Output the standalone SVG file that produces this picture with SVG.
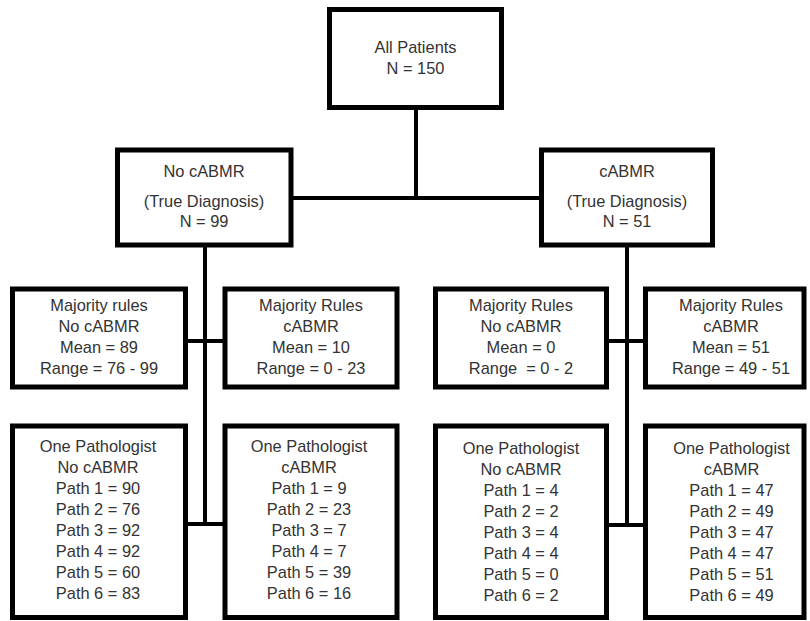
<svg xmlns="http://www.w3.org/2000/svg" width="810" height="621" viewBox="0 0 810 621">
<style>
.box{fill:#fff;stroke:#000;stroke-width:5}
.con{stroke:#000;stroke-width:4;fill:none}
text{font-family:"Liberation Sans",Arial,sans-serif;font-size:16.4px;fill:#333;text-anchor:middle}
</style>
<rect width="810" height="621" fill="#fff"/>
<g id="connectors">
<line class="con" x1="416" y1="107" x2="416" y2="198"/>
<line class="con" x1="291" y1="198" x2="541" y2="198"/>
<line class="con" x1="205" y1="245" x2="205" y2="524"/>
<line class="con" x1="185" y1="341" x2="225" y2="341"/>
<line class="con" x1="185" y1="524" x2="225" y2="524"/>
<line class="con" x1="627" y1="245" x2="627" y2="525"/>
<line class="con" x1="606" y1="341" x2="646" y2="341"/>
<line class="con" x1="606" y1="525" x2="646" y2="525"/>
</g>
<g id="all-patients">
<rect class="box" x="329.5" y="9.5" width="172" height="98"/>
<text x="415.5" y="52.5">All Patients</text>
<text x="415.5" y="74">N = 150</text>
</g>
<g id="no-cabmr-true">
<rect class="box" x="117.5" y="150" width="173.5" height="95"/>
<text x="204" y="177">No cABMR</text>
<text x="204" y="206.5">(True Diagnosis)</text>
<text x="204" y="227">N = 99</text>
</g>
<g id="cabmr-true">
<rect class="box" x="541.5" y="150" width="171" height="95"/>
<text x="627" y="177">cABMR</text>
<text x="627" y="206.5">(True Diagnosis)</text>
<text x="627" y="227">N = 51</text>
</g>
<g id="mr-left-no">
<rect class="box" x="12.5" y="289" width="173" height="98"/>
<text x="99" y="311">Majority rules</text>
<text x="99" y="332">No cABMR</text>
<text x="99" y="353">Mean = 89</text>
<text x="99" y="374">Range = 76 - 99</text>
</g>
<g id="mr-left-yes">
<rect class="box" x="225" y="289" width="172" height="98"/>
<text x="311" y="311">Majority Rules</text>
<text x="311" y="332">cABMR</text>
<text x="311" y="353">Mean = 10</text>
<text x="311" y="374">Range = 0 - 23</text>
</g>
<g id="mr-right-no">
<rect class="box" x="435.5" y="289" width="171" height="98"/>
<text x="521" y="311">Majority Rules</text>
<text x="521" y="332">No cABMR</text>
<text x="521" y="353">Mean = 0</text>
<text x="521" y="374">Range &#160;= 0 - 2</text>
</g>
<g id="mr-right-yes">
<rect class="box" x="645.5" y="289" width="158.5" height="98"/>
<text x="731" y="311">Majority Rules</text>
<text x="731" y="332">cABMR</text>
<text x="731" y="353">Mean = 51</text>
<text x="731" y="374">Range = 49 - 51</text>
</g>
<g id="op-left-no">
<rect class="box" x="12.5" y="426" width="173" height="191.5"/>
<text x="98" y="452">One Pathologist</text>
<text x="98" y="473">No cABMR</text>
<text x="98" y="494">Path 1 = 90</text>
<text x="98" y="515">Path 2 = 76</text>
<text x="98" y="536">Path 3 = 92</text>
<text x="98" y="557">Path 4 = 92</text>
<text x="98" y="578">Path 5 = 60</text>
<text x="98" y="599">Path 6 = 83</text>
</g>
<g id="op-left-yes">
<rect class="box" x="225" y="426" width="172" height="191.5"/>
<text x="309" y="452">One Pathologist</text>
<text x="309" y="473">cABMR</text>
<text x="309" y="494">Path 1 = 9</text>
<text x="309" y="515">Path 2 = 23</text>
<text x="309" y="536">Path 3 = 7</text>
<text x="309" y="557">Path 4 = 7</text>
<text x="309" y="578">Path 5 = 39</text>
<text x="309" y="599">Path 6 = 16</text>
</g>
<g id="op-right-no">
<rect class="box" x="435.5" y="426" width="171" height="191.5"/>
<text x="521" y="454">One Pathologist</text>
<text x="521" y="475">No cABMR</text>
<text x="521" y="496">Path 1 = 4</text>
<text x="521" y="517">Path 2 = 2</text>
<text x="521" y="538">Path 3 = 4</text>
<text x="521" y="559">Path 4 = 4</text>
<text x="521" y="580">Path 5 = 0</text>
<text x="521" y="601">Path 6 = 2</text>
</g>
<g id="op-right-yes">
<rect class="box" x="645.5" y="426" width="158.5" height="191.5"/>
<text x="731.5" y="454">One Pathologist</text>
<text x="731.5" y="475">cABMR</text>
<text x="731.5" y="496">Path 1 = 47</text>
<text x="731.5" y="517">Path 2 = 49</text>
<text x="731.5" y="538">Path 3 = 47</text>
<text x="731.5" y="559">Path 4 = 47</text>
<text x="731.5" y="580">Path 5 = 51</text>
<text x="731.5" y="601">Path 6 = 49</text>
</g>
</svg>
